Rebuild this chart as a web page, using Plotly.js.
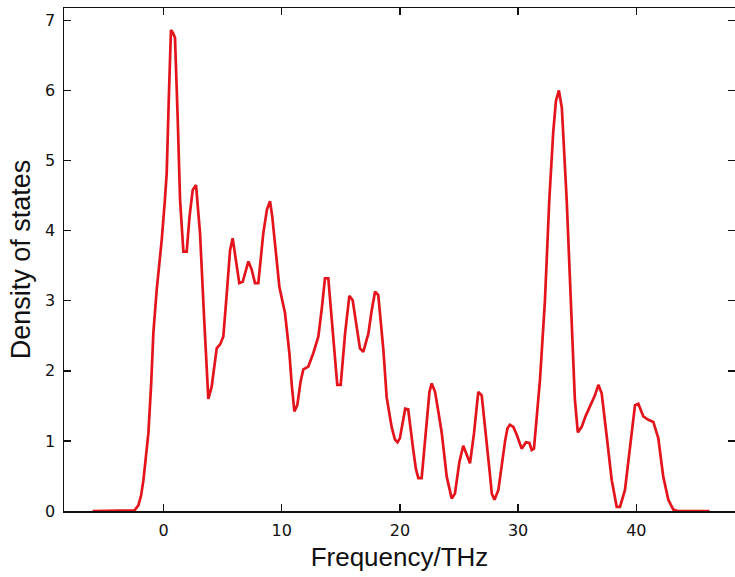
<!DOCTYPE html>
<html>
<head>
<meta charset="utf-8">
<script src="https://cdn.plot.ly/plotly-3.0.1.min.js"></script>
<style>html,body{margin:0;padding:0;background:#fff;}#chart{width:735px;height:577px;}</style>
</head>
<body>
<div id="chart"></div>
<script>
const frequency = [-6.0,-4.0,-2.9,-2.45,-2.13,-1.9,-1.7,-1.5,-1.28,-1.05,-0.86,-0.58,-0.3,-0.15,0.1,0.27,0.45,0.63,0.8,0.97,1.2,1.4,1.68,1.96,2.2,2.47,2.75,3.09,3.43,3.79,4.07,4.3,4.5,4.8,5.06,5.35,5.63,5.85,6.1,6.41,6.7,7.18,7.45,7.74,8.02,8.44,8.75,9.01,9.2,9.43,9.8,10.28,10.65,10.85,11.07,11.32,11.6,11.83,12.25,12.67,13.1,13.4,13.66,13.94,14.15,14.37,14.7,14.99,15.36,15.72,16.0,16.34,16.62,16.9,17.33,17.6,17.9,18.17,18.4,18.6,18.88,19.1,19.3,19.58,19.8,20.0,20.25,20.45,20.7,20.9,21.13,21.35,21.56,21.84,22.05,22.27,22.5,22.69,22.97,23.25,23.54,23.96,24.2,24.38,24.66,25.03,25.36,25.6,25.93,26.27,26.5,26.63,26.92,27.15,27.34,27.6,27.77,28.0,28.33,28.6,28.9,29.1,29.31,29.6,29.9,30.3,30.67,30.95,31.15,31.34,31.57,31.85,32.27,32.64,32.97,33.2,33.45,33.7,34.11,34.4,34.8,35.05,35.38,35.7,36.08,36.5,36.79,37.07,37.5,37.92,38.34,38.62,39.04,39.47,39.89,40.17,40.59,41.02,41.44,41.86,42.28,42.71,43.13,43.5,46.2];
const dos = [0,0,0,0.01,0.08,0.22,0.44,0.75,1.11,1.8,2.54,3.15,3.6,3.87,4.4,4.82,5.9,6.86,6.82,6.75,5.6,4.44,3.70,3.70,4.2,4.58,4.65,3.96,2.77,1.60,1.77,2.1,2.32,2.38,2.49,3.1,3.72,3.89,3.6,3.25,3.27,3.56,3.45,3.25,3.25,3.96,4.3,4.42,4.2,3.82,3.2,2.82,2.25,1.8,1.42,1.51,1.85,2.02,2.06,2.25,2.49,2.9,3.32,3.32,2.9,2.39,1.80,1.80,2.53,3.07,3.01,2.63,2.32,2.27,2.53,2.85,3.13,3.08,2.7,2.30,1.62,1.38,1.20,1.02,0.98,1.04,1.3,1.46,1.45,1.15,0.87,0.6,0.47,0.47,0.9,1.35,1.7,1.82,1.70,1.42,1.11,0.49,0.3,0.18,0.25,0.70,0.93,0.82,0.68,1.11,1.5,1.70,1.65,1.3,1.01,0.55,0.25,0.16,0.30,0.65,1.0,1.18,1.23,1.20,1.08,0.89,0.98,0.97,0.87,0.89,1.35,1.87,3.0,4.44,5.4,5.85,6.0,5.75,4.44,3.2,1.6,1.12,1.20,1.35,1.49,1.65,1.80,1.68,1.06,0.44,0.06,0.06,0.30,0.92,1.51,1.53,1.35,1.30,1.27,1.04,0.49,0.16,0.02,0,0];
const xTicks = [0,10,20,30,40];
const yTicks = [0,1,2,3,4,5,6,7];

const trace = {
  x: frequency, y: dos, type: 'scatter', mode: 'lines',
  line: {color: '#e3141b', width: 2.7}, hoverinfo: 'skip'
};
const axisCommon = {
  showline: true, linecolor: '#111', linewidth: 1.5, mirror: 'ticks',
  ticks: 'inside', ticklen: 7, tickwidth: 1.5, tickcolor: '#111',
  showgrid: false, zeroline: false,
  tickfont: {family: 'DejaVu Sans', size: 16, color: '#111'}
};
const layout = {
  width: 735, height: 577,
  margin: {l: 64, r: 0, t: 8, b: 66},
  paper_bgcolor: '#fff', plot_bgcolor: '#fff',
  showlegend: false,
  xaxis: Object.assign({}, axisCommon, {
    range: [-8.42, 48.35], tickvals: xTicks, ticktext: xTicks.map(String),
    ticklabelstandoff: 4,
    title: {text: 'Frequency/THz', font: {family: 'Liberation Sans, Arial', size: 26, color: '#111'}, standoff: 9}
  }),
  yaxis: Object.assign({}, axisCommon, {
    range: [0, 7.175], tickvals: yTicks, ticktext: yTicks.map(String),
    ticklabelstandoff: 4,
    title: {text: 'Density of states', font: {family: 'Liberation Sans, Arial', size: 27, color: '#111'}, standoff: 6}
  })
};
Plotly.newPlot('chart', [trace], layout, {displayModeBar: false, staticPlot: true});
</script>
</body>
</html>
